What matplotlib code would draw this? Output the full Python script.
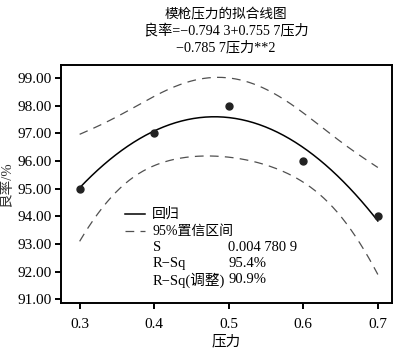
import numpy as np
import matplotlib
matplotlib.use('Agg')
import matplotlib.pyplot as plt

plt.rcParams['font.family'] = ['Liberation Serif', 'Noto Sans CJK SC']
plt.rcParams['axes.unicode_minus'] = False

# 数据
pressure = [0.3, 0.4, 0.5, 0.6, 0.7]
yield_rate = [95.0, 97.0, 98.0, 96.0, 94.0]
yticks = [91, 92, 93, 94, 95, 96, 97, 98, 99]
xticks = [0.3, 0.4, 0.5, 0.6, 0.7]
title_lines = ['模枪压力的拟合线图', '良率=−0.794 3+0.755 7压力', '−0.785 7压力**2']
stats_labels = ['S', 'R−Sq', 'R−Sq(调整)']
stats_values = ['0.004 780 9', '95.4%', '90.9%']
t_crit = 4.303  # t(0.975, 2)

# 二次回归 + 95%置信区间
x = np.array(pressure)
y = np.array(yield_rate)
X = np.column_stack([np.ones_like(x), x, x**2])
beta, *_ = np.linalg.lstsq(X, y, rcond=None)
resid = y - X @ beta
s = np.sqrt(resid @ resid / (len(x) - 3))
xx = np.linspace(0.3, 0.7, 200)
XX = np.column_stack([np.ones_like(xx), xx, xx**2])
fit = XX @ beta
cov = np.linalg.inv(X.T @ X)
se = s * np.sqrt(np.einsum('ij,jk,ik->i', XX, cov, XX))
upper = fit + t_crit * se
lower = fit - t_crit * se

fig = plt.figure(figsize=(4.0, 3.53), dpi=100)
ax = fig.add_axes([0.1525, 0.1416, 0.8275, 0.674])

dash_col = '#505050'
ax.plot(xx, fit, color='black', lw=1.1)
ax.plot(xx, upper, color=dash_col, lw=0.9, dashes=(7, 5))
ax.plot(xx, lower, color=dash_col, lw=0.9, dashes=(7, 5))
ax.plot(x, y, 'o', color='#222222', ms=5)

ax.set_xlim(0.275, 0.719)
ax.set_ylim(90.86, 99.47)
ax.set_xticks(xticks)
ax.set_xticklabels([f'{v:.1f}' for v in xticks])
ax.set_yticks(yticks)
ax.set_yticklabels([f'{v:.2f}' for v in yticks])
ax.tick_params(direction='out', length=4, width=1.4, labelsize=11)
ax.tick_params(axis='x', pad=6.5)
ax.tick_params(axis='y', pad=2.5)
for sp in ax.spines.values():
    sp.set_linewidth(1.4)

ax.set_xlabel('压力', fontsize=10.5, labelpad=3)
ax.set_ylabel('良率/%', fontsize=10.5, labelpad=3, color='#333333')

title_sizes = [9.8, 10.2, 10.2]
for i, t in enumerate(title_lines):
    fig.text(0.565, 1 - (15 + 16.5 * i) / 353, t, ha='center', va='center',
             fontsize=title_sizes[i])

# 图例/统计量
ax.plot([0.193, 0.254], [0.374, 0.374], transform=ax.transAxes, color='black', lw=1.1)
ax.plot([0.193, 0.254], [0.3025, 0.3025], transform=ax.transAxes, color=dash_col,
        lw=0.9, dashes=(7, 5))
ax.text(0.275, 0.374, '回归', transform=ax.transAxes, va='center', fontsize=10)
ax.text(0.275, 0.3025, '95%置信区间', transform=ax.transAxes, va='center', fontsize=10)
for i, (lab, val) in enumerate(zip(stats_labels, stats_values)):
    yy = 0.235 - 0.069 * i
    ax.text(0.278, yy, lab, transform=ax.transAxes, va='center', fontsize=10.5)
    ax.text(0.505, yy, val, transform=ax.transAxes, va='center', fontsize=10.5)

fig.savefig('out.png', dpi=100)
